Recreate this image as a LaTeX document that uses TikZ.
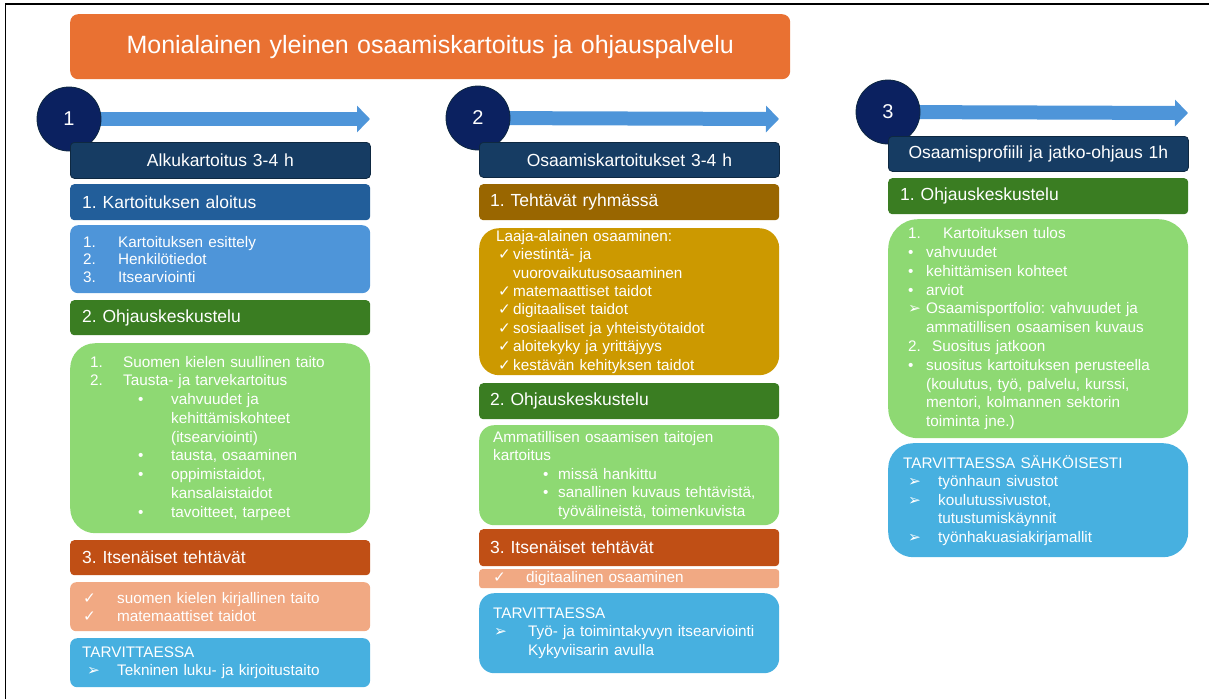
\documentclass[tikz,border=0pt]{standalone}
\usepackage{fontspec}
\setmainfont{Liberation Sans}
\newfontfamily\dingfont{DejaVu Sans}
\usetikzlibrary{arrows.meta,backgrounds}
\usepackage{xcolor}
\definecolor{titleorange}{HTML}{E97132}
\definecolor{navyball}{HTML}{0B2160}
\definecolor{navyline}{HTML}{0E2841}
\definecolor{headblue}{HTML}{163C63}
\definecolor{barblue}{HTML}{225E9A}
\definecolor{listblue}{HTML}{4E95D9}
\definecolor{bargreen}{HTML}{3A7D22}
\definecolor{listgreen}{HTML}{8ED973}
\definecolor{barrust}{HTML}{C04F15}
\definecolor{listpeach}{HTML}{F1A983}
\definecolor{needblue}{HTML}{47B0E0}
\definecolor{barbrown}{HTML}{996600}
\definecolor{listgold}{HTML}{CC9900}
\newcommand{\chk}{{\dingfont ✓}}
\newcommand{\arr}{{\dingfont ➢}}
\frenchspacing

\begin{document}
\begin{tikzpicture}[x=1pt,y=-1pt]
\tikzstyle{panel} = [rectangle, anchor=north west, minimum width=300pt,
inner xsep=0pt, inner ysep=0pt, text=white, align=left,
font=\fontsize{15.3}{18.5}\selectfont]
\tikzstyle{bar} = [panel, rounded corners=4pt, text width=276pt,
font=\fontsize{17.5}{20}\selectfont]
\tikzstyle{head} = [bar, draw=navyline, thick, fill=headblue, align=center]
\tikzstyle{numball} = [circle, fill=navyball, draw=navyline, thick,
minimum size=64pt, inner sep=0pt, text=white, font=\fontsize{20}{20}\selectfont]
\tikzstyle{flow} = [draw=listblue, line width=14pt, -{Triangle[length=13pt,width=26pt]}]
\useasboundingbox (0,0) rectangle (1209,699);
\draw[line width=1.5pt] (5.5,699) -- (5.5,4) -- (1209,4);

% title
\node[panel, fill=titleorange, rounded corners=8pt, minimum width=720pt,
minimum height=65pt, text width=700pt, align=center,
font=\fontsize{25}{28}\selectfont] (title) at (70,14)
{Monialainen yleinen osaamiskartoitus ja ohjauspalvelu};

% column 1
\node[numball] (ball1) at (69,119) {1};
\coordinate (tip1) at (370,119);
\node[head, minimum height=36pt] (head1) at (70,142) {Alkukartoitus 3-4 h};
\node[bar, fill=barblue, minimum height=36pt] (bar11) at (70,184) {1. Kartoituksen aloitus};
\node[panel, fill=listblue, rounded corners=8pt, minimum height=68pt, text width=274pt,
font=\fontsize{15.3}{17.5}\selectfont] (list11) at (70,225)
{\makebox[35pt][l]{1.}Kartoituksen esittely\\
\makebox[35pt][l]{2.}Henkilötiedot\\
\makebox[35pt][l]{3.}Itsearviointi};
\node[bar, fill=bargreen, minimum height=35pt] (bar12) at (70,300) {2. Ohjauskeskustelu};
\node[panel, fill=listgreen, rounded corners=25pt, minimum height=190pt, text width=260pt,
font=\fontsize{15.3}{18.75}\selectfont] (list12) at (70,343)
{\makebox[33pt][l]{1.}Suomen kielen suullinen taito\\
\makebox[33pt][l]{2.}Tausta- ja tarvekartoitus\\
\hspace*{48pt}\makebox[33pt][l]{•}vahvuudet ja\\
\hspace*{81pt}kehittämiskohteet\\
\hspace*{81pt}(itsearviointi)\\
\hspace*{48pt}\makebox[33pt][l]{•}tausta, osaaminen\\
\hspace*{48pt}\makebox[33pt][l]{•}oppimistaidot,\\
\hspace*{81pt}kansalaistaidot\\
\hspace*{48pt}\makebox[33pt][l]{•}tavoitteet, tarpeet};
\node[bar, fill=barrust, minimum height=35pt] (bar13) at (70,540) {3. Itsenäiset tehtävät};
\node[panel, fill=listpeach, rounded corners=6pt, minimum height=49pt, text width=274pt,
font=\fontsize{15.3}{18}\selectfont] (list13) at (70,582)
{\makebox[34pt][l]{\chk}suomen kielen kirjallinen taito\\
\makebox[34pt][l]{\chk}matemaattiset taidot};
\node[panel, fill=needblue, rounded corners=7pt, minimum height=49pt, text width=276pt,
font=\fontsize{15.3}{18}\selectfont] (need1) at (70,638)
{TARVITTAESSA\\
\hspace*{5pt}\makebox[30pt][l]{\arr}Tekninen luku- ja kirjoitustaito};

% column 2
\node[numball] (ball2) at (478,118) {2};
\coordinate (tip2) at (779,119);
\node[head, minimum height=35pt] (head2) at (479,142) {Osaamiskartoitukset 3-4 h};
\node[bar, fill=barbrown, minimum height=36pt, text width=278pt] (bar21) at (479,184) {1. Tehtävät ryhmässä};
\node[panel, fill=listgold, rounded corners=20pt, minimum height=147pt, text width=266pt,
font=\fontsize{15.3}{18.4}\selectfont] (list21) at (479,228)
{Laaja-alainen osaaminen:\\
\hspace*{2pt}\makebox[15pt][l]{\chk}viestintä- ja\\
\hspace*{17pt}vuorovaikutusosaaminen\\
\hspace*{2pt}\makebox[15pt][l]{\chk}matemaattiset taidot\\
\hspace*{2pt}\makebox[15pt][l]{\chk}digitaaliset taidot\\
\hspace*{2pt}\makebox[15pt][l]{\chk}sosiaaliset ja yhteistyötaidot\\
\hspace*{2pt}\makebox[15pt][l]{\chk}aloitekyky ja yrittäjyys\\
\hspace*{2pt}\makebox[15pt][l]{\chk}kestävän kehityksen taidot};
\node[bar, fill=bargreen, minimum height=36pt, text width=278pt] (bar22) at (479,383) {2. Ohjauskeskustelu};
\node[panel, fill=listgreen, rounded corners=15pt, minimum height=100pt, text width=272pt,
font=\fontsize{15.3}{18.5}\selectfont] (list22) at (479,425)
{Ammatillisen osaamisen taitojen\\
kartoitus\\
\hspace*{50pt}\makebox[15pt][l]{•}missä hankittu\\
\hspace*{50pt}\makebox[15pt][l]{•}sanallinen kuvaus tehtävistä,\\
\hspace*{65pt}työvälineistä, toimenkuvista};
\node[bar, fill=barrust, minimum height=37pt, text width=278pt] (bar23) at (479,529) {3. Itsenäiset tehtävät};
\node[panel, fill=listpeach, rounded corners=3pt, minimum height=19pt, text width=272pt,
font=\fontsize{15.3}{18}\selectfont] (list23) at (479,569)
{\makebox[33pt][l]{\chk}digitaalinen osaaminen};
\node[panel, fill=needblue, rounded corners=15pt, minimum height=80pt, text width=272pt,
font=\fontsize{15.3}{18.5}\selectfont] (need2) at (479,593)
{TARVITTAESSA\\
\hspace*{1pt}\makebox[34pt][l]{\arr}Työ- ja toimintakyvyn itsearviointi\\
\hspace*{35pt}Kykyviisarin avulla};

% column 3
\node[numball] (ball3) at (888,112) {3};
\coordinate (tip3) at (1188,113);
\node[head, minimum height=35pt] (head3) at (888,136) {Osaamisprofiili ja jatko-ohjaus 1h};
\node[bar, fill=bargreen, minimum height=36pt] (bar31) at (888,178) {1. Ohjauskeskustelu};
\node[panel, fill=listgreen, rounded corners=30pt, minimum height=219pt, text width=260pt,
font=\fontsize{15.3}{18.8}\selectfont] (list31) at (888,219)
{\makebox[35pt][l]{1.}Kartoituksen tulos\\
\makebox[18pt][l]{•}vahvuudet\\
\makebox[18pt][l]{•}kehittämisen kohteet\\
\makebox[18pt][l]{•}arviot\\
\makebox[18pt][l]{\arr}Osaamisportfolio: vahvuudet ja\\
\hspace*{18pt}ammatillisen osaamisen kuvaus\\
\makebox[24pt][l]{2.}Suositus jatkoon\\
\makebox[18pt][l]{•}suositus kartoituksen perusteella\\
\hspace*{18pt}(koulutus, työ, palvelu, kurssi,\\
\hspace*{18pt}mentori, kolmannen sektorin\\
\hspace*{18pt}toiminta jne.)};
\node[panel, fill=needblue, rounded corners=25pt, minimum height=114pt, text width=270pt,
font=\fontsize{15.3}{18.5}\selectfont] (need3) at (888,443)
{TARVITTAESSA SÄHKÖISESTI\\
\hspace*{5pt}\makebox[30pt][l]{\arr}työnhaun sivustot\\
\hspace*{5pt}\makebox[30pt][l]{\arr}koulutussivustot,\\
\hspace*{35pt}tutustumiskäynnit\\
\hspace*{5pt}\makebox[30pt][l]{\arr}työnhakuasiakirjamallit};

\begin{scope}[on background layer]
\draw[flow] (ball1.center) -- (tip1);
\draw[flow] (ball2.center) -- (tip2);
\draw[flow] (ball3.center) -- (tip3);
\end{scope}
\end{tikzpicture}
\end{document}
